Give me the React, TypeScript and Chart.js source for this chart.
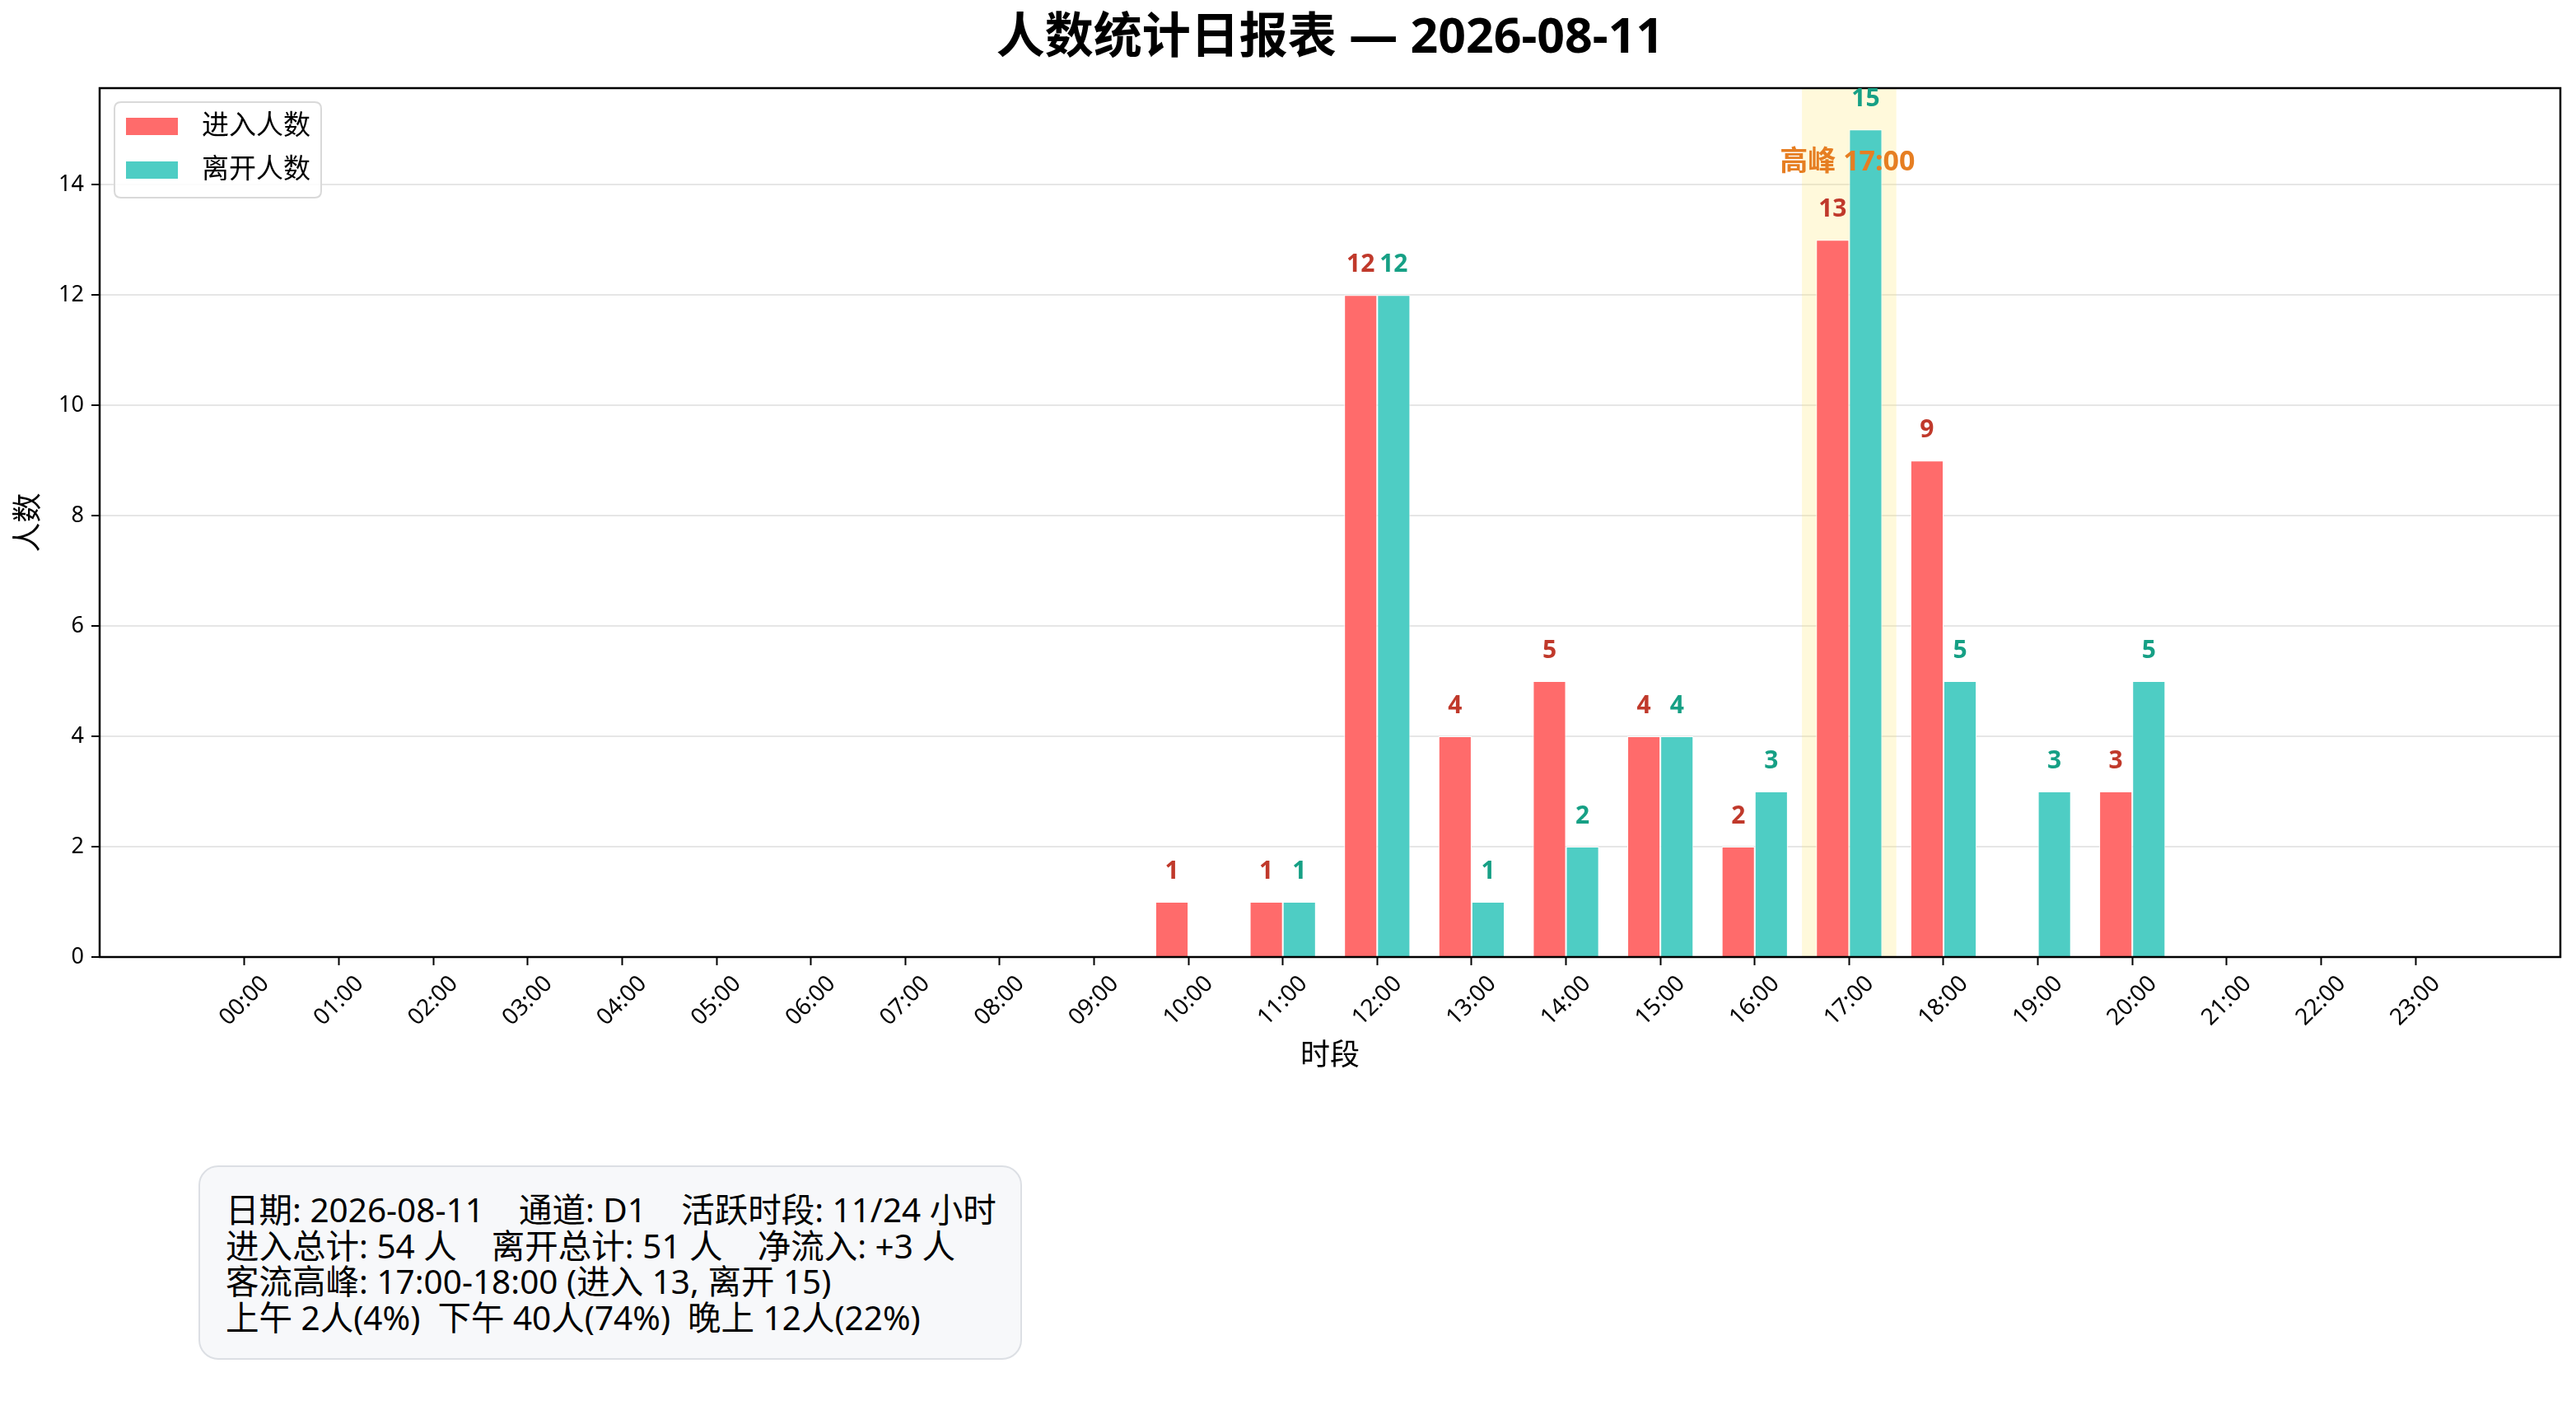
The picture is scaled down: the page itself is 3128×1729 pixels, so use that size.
import React, { useEffect, useRef } from "react";
import { Chart, registerables } from "chart.js";

Chart.register(...registerables);

const FONT = '"Noto Sans", "Noto Sans CJK SC", sans-serif';

const titleText = "人数统计日报表 — 2026-08-11";
const xAxisTitle = "时段";
const yAxisTitle = "人数";

const hourLabels = [
  "00:00", "01:00", "02:00", "03:00", "04:00", "05:00", "06:00", "07:00",
  "08:00", "09:00", "10:00", "11:00", "12:00", "13:00", "14:00", "15:00",
  "16:00", "17:00", "18:00", "19:00", "20:00", "21:00", "22:00", "23:00",
];
const hourValues = [0, 1, 2, 3, 4, 5, 6, 7, 8, 9, 10, 11, 12, 13, 14, 15, 16, 17, 18, 19, 20, 21, 22, 23];
const enterCounts = [0, 0, 0, 0, 0, 0, 0, 0, 0, 0, 1, 1, 12, 4, 5, 4, 2, 13, 9, 0, 3, 0, 0, 0];
const leaveCounts = [0, 0, 0, 0, 0, 0, 0, 0, 0, 0, 0, 1, 12, 1, 2, 4, 3, 15, 5, 3, 5, 0, 0, 0];
const seriesNames = ["进入人数", "离开人数"];
const yTickValues = [0, 2, 4, 6, 8, 10, 12, 14];
const xLimits = [-1.535, 24.535];
const yLimits = [0, 15.75];
const peakHour = 17;
const peakLabel = "高峰 17:00";
const peakLabelValue = 14.25;

const infoLines = [
  "日期: 2026-08-11    通道: D1    活跃时段: 11/24 小时",
  "进入总计: 54 人    离开总计: 51 人    净流入: +3 人",
  "客流高峰: 17:00-18:00 (进入 13, 离开 15)",
  "上午 2人(4%)  下午 40人(74%)  晚上 12人(22%)",
];

const COLORS = {
  enter: "#FF6B6B",
  leave: "#4ECDC4",
  enterText: "#C0392B",
  leaveText: "#16A085",
  peak: "#E67E22",
  band: "rgba(255, 230, 110, 0.25)",
};

const W = 3128;
const H = 1729;

function roundRect(ctx: CanvasRenderingContext2D, x: number, y: number, w: number, h: number, r: number) {
  ctx.beginPath();
  ctx.moveTo(x + r, y);
  ctx.lineTo(x + w - r, y);
  ctx.quadraticCurveTo(x + w, y, x + w, y + r);
  ctx.lineTo(x + w, y + h - r);
  ctx.quadraticCurveTo(x + w, y + h, x + w - r, y + h);
  ctx.lineTo(x + r, y + h);
  ctx.quadraticCurveTo(x, y + h, x, y + h - r);
  ctx.lineTo(x, y + r);
  ctx.quadraticCurveTo(x, y, x + r, y);
  ctx.closePath();
}

const decorPlugin = {
  id: "decor",
  beforeDatasetsDraw(chart: any) {
    const { ctx, chartArea, scales } = chart;
    const x0 = scales.x.getPixelForValue(peakHour - 0.5);
    const x1 = scales.x.getPixelForValue(peakHour + 0.5);
    ctx.save();
    ctx.fillStyle = COLORS.band;
    ctx.fillRect(x0, chartArea.top, x1 - x0, chartArea.bottom - chartArea.top);
    ctx.restore();
  },
  afterDraw(chart: any) {
    const { ctx, chartArea, scales } = chart;
    const xs = scales.x;
    const ys = scales.y;
    ctx.save();

    // spines
    ctx.strokeStyle = "#000";
    ctx.lineWidth = 2.5;
    ctx.strokeRect(chartArea.left, chartArea.top, chartArea.right - chartArea.left, chartArea.bottom - chartArea.top);

    // value labels
    ctx.font = `bold 30px ${FONT}`;
    ctx.textAlign = "center";
    ctx.textBaseline = "alphabetic";
    const series = [enterCounts, leaveCounts];
    const textColors = [COLORS.enterText, COLORS.leaveText];
    series.forEach((vals, di) => {
      const meta = chart.getDatasetMeta(di);
      vals.forEach((v, i) => {
        if (v <= 0) return;
        const el = meta.data[i];
        ctx.fillStyle = textColors[di];
        ctx.fillText(String(v), el.x, ys.getPixelForValue(v) - 28);
      });
    });

    // peak label
    ctx.font = `bold 34px ${FONT}`;
    ctx.fillStyle = COLORS.peak;
    ctx.fillText(peakLabel, xs.getPixelForValue(peakHour) - 2, ys.getPixelForValue(peakLabelValue));

    // x tick labels (rotated 45°, centered bbox like matplotlib)
    ctx.font = `28px ${FONT}`;
    ctx.fillStyle = "#000";
    hourValues.forEach((h, i) => {
      const label = hourLabels[i];
      const L = ctx.measureText(label).width;
      const th = 20;
      const bbox = (L + th) / Math.SQRT2;
      const x = xs.getPixelForValue(h);
      const cy = chartArea.bottom + 21 + bbox / 2;
      ctx.save();
      ctx.translate(x, cy);
      ctx.rotate(-Math.PI / 4);
      ctx.textAlign = "center";
      ctx.textBaseline = "middle";
      ctx.fillText(label, 0, 0);
      ctx.restore();
    });

    // axis titles
    ctx.font = `36px ${FONT}`;
    ctx.fillStyle = "#000";
    ctx.textAlign = "center";
    ctx.textBaseline = "middle";
    ctx.fillText(xAxisTitle, (chartArea.left + chartArea.right) / 2, 1283);
    ctx.save();
    ctx.translate(36, (chartArea.top + chartArea.bottom) / 2);
    ctx.rotate(-Math.PI / 2);
    ctx.fillText(yAxisTitle, 0, 0);
    ctx.restore();

    // title
    ctx.font = `bold 59px ${FONT}`;
    ctx.fillText(titleText, (chartArea.left + chartArea.right) / 2, 47);

    // legend
    const lx = chartArea.left + 18;
    const ly = chartArea.top + 17;
    ctx.fillStyle = "rgba(255,255,255,0.85)";
    roundRect(ctx, lx, ly, 251, 116, 8);
    ctx.fill();
    ctx.strokeStyle = "#d9d9d9";
    ctx.lineWidth = 2;
    ctx.stroke();
    const swatchColors = [COLORS.enter, COLORS.leave];
    ctx.font = `33px ${FONT}`;
    ctx.textAlign = "left";
    ctx.textBaseline = "middle";
    seriesNames.forEach((name, i) => {
      const cy = ly + 30 + i * 53;
      ctx.fillStyle = swatchColors[i];
      ctx.fillRect(lx + 14, cy - 11, 63, 21);
      ctx.fillStyle = "#000";
      ctx.fillText(name, lx + 106, cy);
    });

    ctx.restore();
  },
};

export default function App() {
  const canvasRef = useRef<HTMLCanvasElement | null>(null);

  useEffect(() => {
    document.body.style.margin = "0";
    const canvas = canvasRef.current;
    if (!canvas) return;
    const chart = new Chart(canvas, {
      type: "bar",
      data: {
        datasets: [
          {
            label: seriesNames[0],
            data: hourValues.map((h, i) => ({ x: h, y: enterCounts[i] })),
            backgroundColor: COLORS.enter,
            borderColor: "#ffffff",
            borderWidth: 1,
            borderSkipped: "start",
            categoryPercentage: 0.7,
            barPercentage: 1,
          },
          {
            label: seriesNames[1],
            data: hourValues.map((h, i) => ({ x: h, y: leaveCounts[i] })),
            backgroundColor: COLORS.leave,
            borderColor: "#ffffff",
            borderWidth: 1,
            borderSkipped: "start",
            categoryPercentage: 0.7,
            barPercentage: 1,
          },
        ],
      } as any,
      options: {
        animation: false,
        responsive: false,
        devicePixelRatio: 1,
        layout: { padding: { top: 107, right: 19, left: 0, bottom: 0 } },
        plugins: {
          legend: { display: false },
          title: { display: false },
          tooltip: { enabled: false },
        },
        scales: {
          x: {
            type: "linear",
            min: xLimits[0],
            max: xLimits[1],
            offset: false,
            afterBuildTicks: (s: any) => {
              s.ticks = hourValues.map((v) => ({ value: v }));
            },
            afterFit: (s: any) => {
              s.height = H - 1162;
            },
            grid: {
              offset: false,
              drawOnChartArea: false,
              drawTicks: true,
              tickLength: 10,
              tickColor: "#000",
              tickWidth: 2,
            },
            border: { display: false },
            ticks: { display: false },
          },
          y: {
            type: "linear",
            min: yLimits[0],
            max: yLimits[1],
            afterBuildTicks: (s: any) => {
              s.ticks = yTickValues.map((v) => ({ value: v }));
            },
            afterFit: (s: any) => {
              s.width = 121;
            },
            grid: {
              color: "#e6e6e6",
              lineWidth: 2,
              tickLength: 10,
              tickColor: "#000",
              tickWidth: 2,
            },
            border: { display: false },
            ticks: {
              color: "#000",
              padding: 9,
              font: { family: FONT, size: 27 },
            },
          },
        },
      } as any,
      plugins: [decorPlugin],
    });
    return () => chart.destroy();
  }, []);

  return (
    <div style={{ position: "absolute", left: 0, top: 0, width: W, height: H, background: "#fff" }}>
      <canvas ref={canvasRef} width={W} height={H} style={{ display: "block", width: W, height: H }} />
      <div
        style={{
          position: "absolute",
          left: 241,
          top: 1415,
          width: 1000,
          height: 236,
          boxSizing: "border-box",
          padding: "30px 0 0 31px",
          background: "#f7f8fa",
          border: "2px solid #dcdfe4",
          borderRadius: 24,
          fontFamily: FONT,
          fontSize: 40.5,
          lineHeight: "43.5px",
          color: "#000",
          whiteSpace: "pre",
        }}
      >
        {infoLines.map((l, i) => (
          <div key={i}>{l}</div>
        ))}
      </div>
    </div>
  );
}
